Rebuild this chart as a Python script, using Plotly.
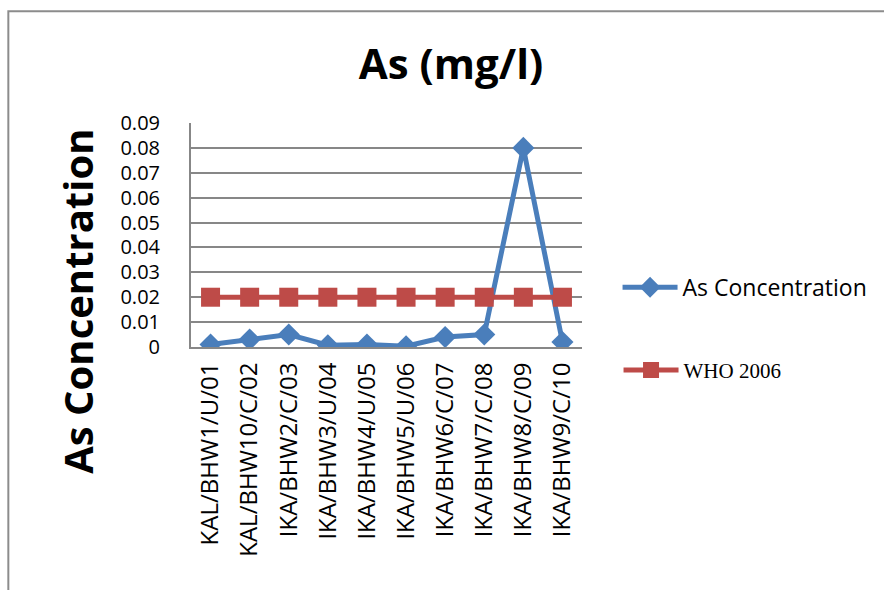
import plotly.graph_objects as go

categories = ["KAL/BHW1/U/01", "KAL/BHW10/C/02", "IKA/BHW2/C/03", "IKA/BHW3/U/04",
              "IKA/BHW4/U/05", "IKA/BHW5/U/06", "IKA/BHW6/C/07", "IKA/BHW7/C/08",
              "IKA/BHW8/C/09", "IKA/BHW9/C/10"]
as_conc = [0.001, 0.003, 0.005, 0.0007, 0.001, 0.0003, 0.004, 0.005, 0.08, 0.002]
who_2006 = [0.02] * 10
y_ticks = [0, 0.01, 0.02, 0.03, 0.04, 0.05, 0.06, 0.07, 0.08, 0.09]
y_tick_text = ["0", "0.01", "0.02", "0.03", "0.04", "0.05", "0.06", "0.07", "0.08", "0.09"]

BLUE = "#4a7ebb"
RED = "#be4b48"
GRID = "#878787"

fig = go.Figure()
fig.add_trace(go.Scatter(
    x=categories, y=as_conc, name="As Concentration", mode="lines+markers",
    line=dict(color=BLUE, width=5),
    marker=dict(symbol="diamond", size=17, color=BLUE),
    legend="legend"))
fig.add_trace(go.Scatter(
    x=categories, y=who_2006, name="WHO 2006", mode="lines+markers",
    line=dict(color=RED, width=5),
    marker=dict(symbol="square", size=19, color=RED),
    legend="legend2"))

W, H = 884, 590
L, R, T, B = 191, 587, 122.7, 346.7
pw, ph = R - L, B - T

def px(x):
    return (x - L) / pw

def py(y):
    return (B - y) / ph

fig.update_layout(
    width=W, height=H,
    margin=dict(l=L, r=W - R, t=T, b=H - B, pad=0),
    paper_bgcolor="white", plot_bgcolor="white",
    font=dict(family="Open Sans, Liberation Sans, sans-serif", color="black"),
    title=dict(text="<b>As (mg/l)</b>", x=451 / W, xref="container", xanchor="center",
               y=1 - 64 / H, yanchor="middle",
               font=dict(size=42, family="Open Sans", color="black")),
    xaxis=dict(type="category", showgrid=False, showline=True, linecolor=GRID,
               linewidth=2, ticks="", tickangle=-90,
               tickfont=dict(size=24, family="Open Sans", color="black"),
               range=[-0.5, 9.5], fixedrange=True, ticklabelstandoff=4),
    yaxis=dict(range=[0, 0.09], tickvals=y_ticks, ticktext=y_tick_text,
               showgrid=True, gridcolor=GRID, gridwidth=1.5,
               showline=True, linecolor=GRID, linewidth=2, ticks="",
               zeroline=False,
               tickfont=dict(size=20, family="Open Sans", color="black"),
               ticklabelstandoff=25),
    annotations=[dict(text="<b>As Concentration</b>", textangle=-90,
                      xref="paper", yref="paper", x=px(76), y=py(301),
                      xanchor="center", yanchor="middle", showarrow=False,
                      font=dict(size=40, family="Open Sans", color="black"))],
    showlegend=True,
    legend=dict(x=px(623), y=py(287), xanchor="left", yanchor="middle",
                bgcolor="rgba(0,0,0,0)", itemwidth=55,
                font=dict(size=23, family="Open Sans", color="black")),
    legend2=dict(x=px(624), y=py(370), xanchor="left", yanchor="middle",
                 bgcolor="rgba(0,0,0,0)", itemwidth=55,
                 font=dict(size=21, family="Liberation Serif", color="black")),
    shapes=[dict(type="rect", xref="paper", yref="paper",
                 x0=px(6), x1=px(900), y0=py(620), y1=py(11),
                 line=dict(color="#8c8c8c", width=2), fillcolor="rgba(0,0,0,0)",
                 layer="below")],
)

fig.write_html("out.html")
